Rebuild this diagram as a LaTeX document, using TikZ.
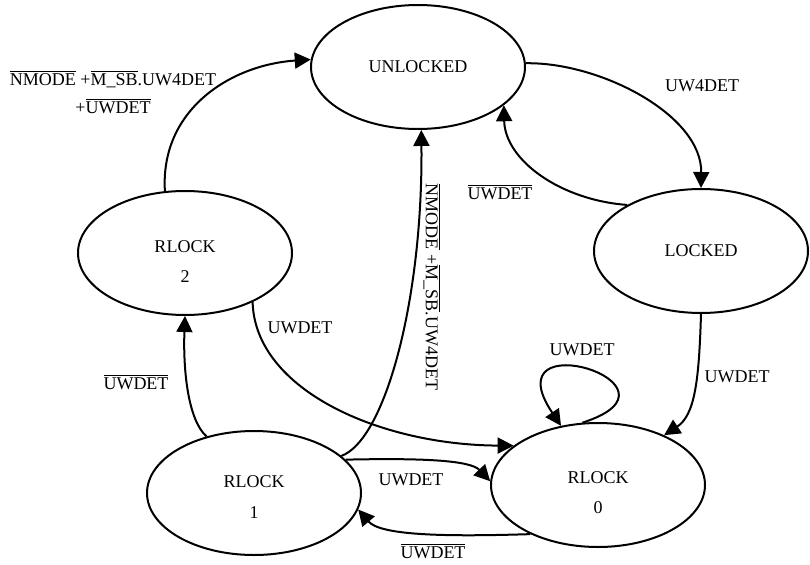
\documentclass[tikz,border=0pt]{standalone}
\usepackage{fontspec}
\setmainfont{Liberation Serif}
\usetikzlibrary{arrows.meta,shapes.geometric}
\newcommand\olbar[1]{$\overline{\mbox{#1}}$}
\begin{document}
\begin{tikzpicture}[x=0.75pt,y=0.75pt,
  every node/.style={font=\fontsize{13.5}{23}\selectfont},
  state/.style={draw,ellipse,line width=1.5pt,minimum width=160.5pt,minimum height=93pt,inner sep=0pt},
  txt/.style={align=center,inner sep=0pt},
  lbl/.style={inner sep=0pt},
  edge/.style={line width=1.5pt,-{Triangle[length=12pt,width=12pt]}}]
\useasboundingbox (0,0) rectangle (810,-564);
% states
\node[state] (U) at (418,-67) {UNLOCKED};
\node[state] (L) at (701,-251) {LOCKED};
\node[state] (R2) at (185,-253) {};
\node[state] (R1) at (254,-493) {};
\node[state] (R0) at (598,-485) {};
\node[txt] (R2t) at (185,-261.5) {RLOCK\\2};
\node[txt] (R1t) at (254,-497) {RLOCK\\1};
\node[txt] (R0t) at (598,-492.5) {RLOCK\\0};
% edges
\draw[edge] (U.2) .. controls (600,-62) and (702,-115) .. (L.90);
\draw[edge] (L.148) .. controls (560,-200) and (505,-160) .. (U.-24);
\draw[edge] (R2.108) .. controls (160,-110) and (230,-65) .. (U.176);
\draw[edge] (R1.130) .. controls (188,-420) and (183,-370) .. (R2.-90);
\draw[edge] (R1.23) .. controls (385,-440) and (423,-300) .. (U.-87);
\draw[edge] (R2.-36) .. controls (255,-390) and (380,-445) .. (R0.155);
\draw[edge] (R1.20) .. controls (420,-458) and (470,-460) .. (R0.178);
\draw[edge] (R0.216) .. controls (440,-537) and (380,-535) .. (R1.-9);
\draw[edge] (R0.104) .. controls (700,-385) and (490,-320) .. (R0.122);
\draw[edge] (L.-90) .. controls (699,-380) and (695,-415) .. (R0.37);
% labels
\node[lbl] (l1) at (702,-86) {UW4DET};
\node[lbl] (l2) at (500,-192) {\olbar{UWDET}};
\node[txt,font=\fontsize{13.5}{21}\selectfont] (l3) at (113,-92) {\olbar{NMODE} +\olbar{M\_SB}.UW4DET\\+\olbar{UWDET}};
\node[lbl,rotate=-90] (l4) at (432,-287) {\olbar{NMODE} +\olbar{M\_SB}.UW4DET};
\node[lbl] (l5) at (136,-382) {\olbar{UWDET}};
\node[lbl] (l6) at (300,-328) {UWDET};
\node[lbl] (l7) at (411,-480) {UWDET};
\node[lbl] (l8) at (433,-551) {\olbar{UWDET}};
\node[lbl] (l9) at (582,-350) {UWDET};
\node[lbl] (l10) at (737,-377) {UWDET};
\end{tikzpicture}
\end{document}
